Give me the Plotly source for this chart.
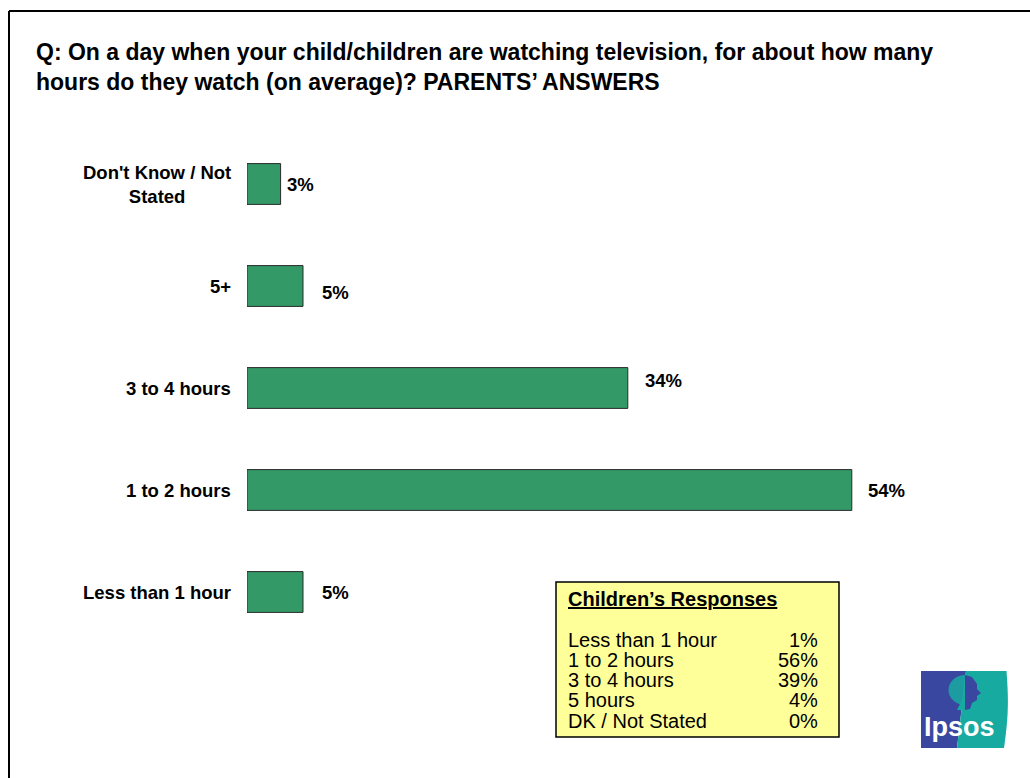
import math
import plotly.graph_objects as go

# Parents' answers (percent)
categories = ["Less than 1 hour", "1 to 2 hours", "3 to 4 hours", "5+", "Don't Know / Not Stated"]
values = [5, 54, 34, 5, 3]
axis_labels = ["Less than 1 hour", "1 to 2 hours", "3 to 4 hours", "5+", "Don't Know / Not<br>Stated"]

# Children's answers (percent)
child_cats = ["Less than 1 hour", "1 to 2 hours", "3 to 4 hours", "5 hours", "DK / Not Stated"]
child_vals = [1, 56, 39, 4, 0]

title_text = ("Q: On a day when your child/children are watching television, for about how many<br>"
              "hours do they watch (on average)? PARENTS\u2019 ANSWERS")

# label offsets (px) for the value labels
label_dx = [17, 14, 15, 17, 4]
label_dy = [0, 0, 8, -6, 0]

W, H = 1030, 778
L, R, T, B = 247, 1000, 133, 643
FONT = "Arial, Liberation Sans, sans-serif"
GREEN = "#339966"


def px(x):
    return (x - L) / (R - L)


def py(y):
    return (B - y) / (B - T)


def path(points):
    return "M " + " L ".join(f"{px(x):.5f},{py(y):.5f}" for x, y in points) + " Z"


fig = go.Figure()
fig.add_trace(go.Bar(
    y=categories, x=values, orientation="h",
    marker=dict(color=GREEN, line=dict(color="#2b2b2b", width=1)),
    width=0.4, hoverinfo="skip",
))

annotations = []
# category labels
for cat, lab in zip(categories, axis_labels):
    annotations.append(dict(
        x=0, y=cat, xref="x", yref="y", text=f"<b>{lab}</b>", showarrow=False,
        xanchor="right", yanchor="middle", align="center", xshift=-14,
        font=dict(family=FONT, size=18.5, color="#000"),
    ))
# value labels
for cat, v, dx, dy in zip(categories, values, label_dx, label_dy):
    annotations.append(dict(
        x=v, y=cat, xref="x", yref="y", text=f"<b>{v}%</b>", showarrow=False,
        xanchor="left", yanchor="middle", xshift=dx, yshift=dy,
        font=dict(family=FONT, size=18.5, color="#000"),
    ))
# title
annotations.append(dict(
    x=px(34), y=py(37), xref="paper", yref="paper", text=f"<b>{title_text}</b>",
    showarrow=False, xanchor="left", yanchor="top", align="left",
    font=dict(family=FONT, size=23, color="#000"),
))

shapes = []
# outer frame (top and left edges)
shapes.append(dict(type="line", xref="paper", yref="paper", x0=px(9), x1=px(1040),
                   y0=py(11), y1=py(11), line=dict(color="#000", width=2)))
shapes.append(dict(type="line", xref="paper", yref="paper", x0=px(9), x1=px(9),
                   y0=py(11), y1=py(790), line=dict(color="#000", width=2)))

# children's responses box
bx0, bx1, by0, by1 = 556, 839, 582, 737
shapes.append(dict(type="rect", xref="paper", yref="paper", x0=px(bx0), x1=px(bx1),
                   y0=py(by1), y1=py(by0), fillcolor="#FFFF99",
                   line=dict(color="#000", width=1.5), layer="above"))
annotations.append(dict(
    x=px(566), y=py(599), xref="paper", yref="paper",
    text="<b><u>Children\u2019s Responses</u></b>", showarrow=False,
    xanchor="left", yanchor="middle", font=dict(family=FONT, size=20, color="#000"),
))
row_y0, row_step = 639.5, 20.3
for i, (c, v) in enumerate(zip(child_cats, child_vals)):
    yy = row_y0 + i * row_step
    annotations.append(dict(x=px(566), y=py(yy), xref="paper", yref="paper", text=c,
                            showarrow=False, xanchor="left", yanchor="middle",
                            font=dict(family=FONT, size=20, color="#000")))
    annotations.append(dict(x=px(820), y=py(yy), xref="paper", yref="paper", text=f"{v}%",
                            showarrow=False, xanchor="right", yanchor="middle",
                            font=dict(family=FONT, size=20, color="#000")))

# logo
BLUE, TEAL = "#3a47a0", "#17aaa0"
shapes.append(dict(type="path", xref="paper", yref="paper",
                   path=path([(921, 671), (966, 671), (957, 748), (921, 748)]),
                   fillcolor=BLUE, line=dict(width=0)))
curve = [(1006.5 + 2.5 * math.sin(math.pi * t / 20) - 2.5 * t / 20, 671 + 77 * t / 20) for t in range(21)]
shapes.append(dict(type="path", xref="paper", yref="paper",
                   path=path([(966, 671)] + curve + [(957, 748)]),
                   fillcolor=TEAL, line=dict(width=0)))
cx, cy, r = 965, 690, 15
left_half = [(cx - r * 1.1 * math.sin(math.pi * k / 16), cy - r * math.cos(math.pi * k / 16)) for k in range(17)]
shapes.append(dict(type="path", xref="paper", yref="paper", path=path(left_half),
                   fillcolor=TEAL, line=dict(width=0), opacity=0.85))
face = [(cx, cy - r), (cx + 7, cy - r + 2), (cx + 12, cy - 6), (cx + 12, cy - 1), (cx + 16, cy + 3),
        (cx + 12, cy + 6), (cx + 12, cy + 10), (cx + 7, cy + 13), (cx + 5, cy + 19), (cx, cy + 20)]
shapes.append(dict(type="path", xref="paper", yref="paper", path=path(face),
                   fillcolor=BLUE, line=dict(width=0)))
shapes.append(dict(type="path", xref="paper", yref="paper",
                   path=path([(cx - 4, cy + 12), (cx, cy + 12), (cx, cy + 20), (cx - 8, cy + 20)]),
                   fillcolor=TEAL, line=dict(width=0)))
annotations.append(dict(x=px(959), y=py(727), xref="paper", yref="paper", text="<b>Ipsos</b>",
                        showarrow=False, xanchor="center", yanchor="middle",
                        font=dict(family=FONT, size=27, color="#fff")))

fig.update_layout(
    width=W, height=H, margin=dict(l=L, r=W - R, t=T, b=H - B),
    paper_bgcolor="#fff", plot_bgcolor="#fff", showlegend=False,
    bargap=0.6,
    xaxis=dict(range=[0, (R - L) / 11.2], visible=False, fixedrange=True),
    yaxis=dict(categoryorder="array", categoryarray=categories, range=[-0.5, 4.5],
               showticklabels=False, showgrid=False, zeroline=False, showline=False, fixedrange=True),
    annotations=annotations, shapes=shapes,
)

fig.write_html("out.html", config={"displayModeBar": False})
